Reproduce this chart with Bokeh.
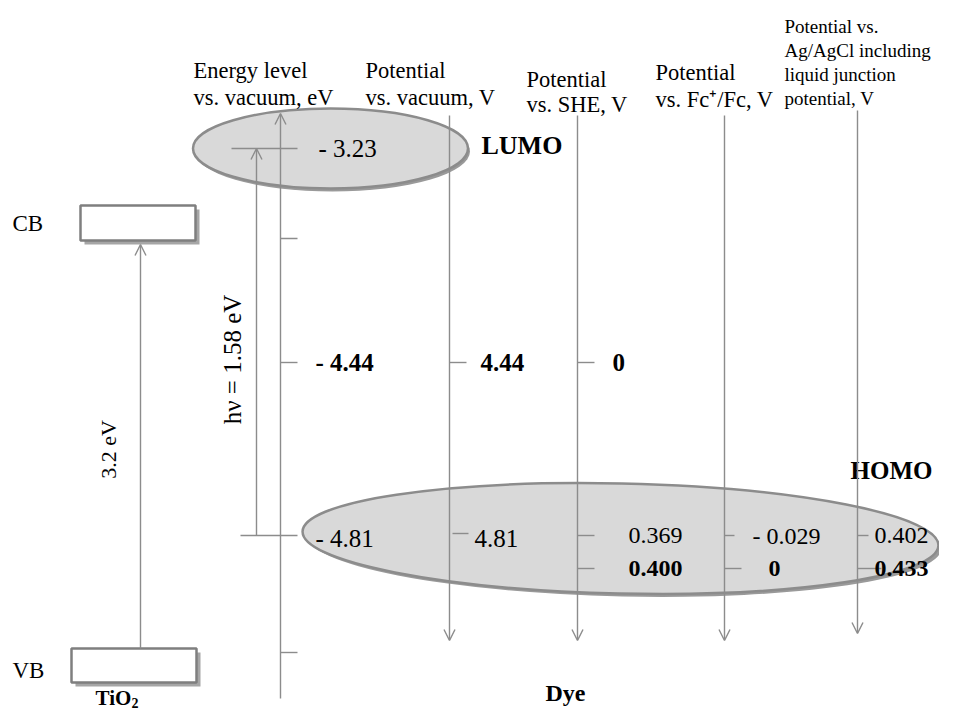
import math
from bokeh.plotting import figure
from bokeh.models import Range1d, Arrow, OpenHead
from bokeh.core.properties import value
from bokeh.embed import file_html
from bokeh.resources import INLINE

# ---------------- data ----------------
header_energy = ["Energy level", "vs. vacuum, eV"]
header_vacuum = ["Potential", "vs. vacuum, V"]
header_she = ["Potential", "vs. SHE, V"]
header_fc = ["Potential", "vs. Fc\u207a/Fc, V"]
header_ag = ["Potential vs.", "Ag/AgCl including", "liquid junction", "potential, V"]

lumo_ev = -3.23
she_vs_vacuum_ev = -4.44
homo_ev = -4.81
she_vs_vacuum_v = 4.44
homo_vs_vacuum_v = 4.81
she_vs_she_v = 0
homo_vs_she_v = [0.369, 0.400]
homo_vs_fc_v = [-0.029, 0]
homo_vs_ag_v = [0.402, 0.433]
hv_ev = 1.58
tio2_gap_ev = 3.2
band_labels = ["CB", "VB"]
material_labels = ["TiO", "Dye"]
orbital_labels = ["LUMO", "HOMO"]


def fmt(v, nd):
    if v == 0:
        return "0"
    s = f"{abs(v):.{nd}f}"
    return "- " + s if v < 0 else s


# ---------------- layout (schematic positions) ----------------
Y_LUMO, Y_REF, Y_HOMO, Y_HOMO2 = 148, 362, 535, 568
Y_TICK_A, Y_TICK_B = 238, 652
AX_E, AX_VAC, AX_SHE, AX_FC, AX_AG = 280, 449, 577, 724, 857
GRAY = "#8c8c8c"
FONT = value("Liberation Serif")

p = figure(width=939, height=710, output_backend="svg", toolbar_location=None,
           x_range=Range1d(0, 939), y_range=Range1d(710, 0), min_border=0)
p.axis.visible = False
p.grid.visible = False
p.outline_line_color = None
p.background_fill_color = "white"

# ellipses (dye HOMO / LUMO)
p.ellipse(x=[623], y=[541], width=[636], height=[110], angle=[-0.022],
          fill_color="#9a9a9a", line_color=None)
p.ellipse(x=[620], y=[538], width=[636], height=[110], angle=[-0.022],
          fill_color="#d9d9d9", line_color=GRAY, line_width=2.5)
p.ellipse(x=[332], y=[151], width=[275], height=[80],
          fill_color="#9a9a9a", line_color=None)
p.ellipse(x=[330], y=[148], width=[275], height=[80],
          fill_color="#d9d9d9", line_color=GRAY, line_width=2.5)

# TiO2 band boxes
p.quad(left=[84, 75], right=[199, 200], top=[209, 652], bottom=[244, 686],
       fill_color="#a6a6a6", line_color=None)
p.quad(left=[80, 71], right=[195, 196], top=[205, 648], bottom=[240, 682],
       fill_color="white", line_color="#7f7f7f", line_width=2.5)

# axes lines with arrows
def arrow(x0, y0, x1, y1):
    p.add_layout(Arrow(end=OpenHead(size=11, line_color=GRAY, line_width=1.4),
                       x_start=x0, y_start=y0, x_end=x1, y_end=y1,
                       line_color=GRAY, line_width=1.4))

arrow(AX_E, 698, AX_E, 113)          # energy axis (up)
arrow(256, Y_HOMO, 256, Y_LUMO)      # hv arrow
arrow(140, 648, 140, 244)            # TiO2 gap
arrow(AX_VAC, 115, AX_VAC, 640)
arrow(AX_SHE, 115, AX_SHE, 640)
arrow(AX_FC, 115, AX_FC, 640)
arrow(AX_AG, 110, AX_AG, 633)

# ticks
tx0 = [AX_E, AX_E, AX_E, 231, 240, AX_VAC, 452, AX_SHE, AX_SHE, AX_SHE, AX_FC, AX_FC, AX_AG, AX_AG]
tx1 = [297, 297, 297, 297, 297, AX_VAC + 17, 468, AX_SHE + 17, AX_SHE + 17, AX_SHE + 17, AX_FC + 10, AX_FC + 17, AX_AG + 11, AX_AG + 24]
ty = [Y_TICK_A, Y_REF, Y_TICK_B, Y_LUMO, Y_HOMO, Y_REF, Y_HOMO - 2, Y_REF, Y_HOMO, Y_HOMO2, Y_HOMO, Y_HOMO2, Y_HOMO, Y_HOMO2]
p.segment(x0=tx0, y0=ty, x1=tx1, y1=ty, line_color=GRAY, line_width=1.4)

def txt(x, y, s, size, bold=False, align="left", baseline="middle", angle=0.0):
    p.text(x=x, y=y, text=s, text_font=FONT, text_font_size=size,
           text_font_style="bold" if bold else "normal", text_align=align,
           text_baseline=baseline, text_color="black", angle=angle)

# headers
txt([193, 193], [70, 97], header_energy, "22.5px", baseline="alphabetic")
txt([365, 365], [70, 97], header_vacuum, "22.5px", baseline="alphabetic")
txt([526, 526], [79, 104], header_she, "22.5px", baseline="alphabetic")
txt([655, 655], [72, 99], header_fc, "22.5px", baseline="alphabetic")
txt([784] * 4, [26, 50, 74, 98], header_ag, "19px", baseline="alphabetic")

# level values
txt([318], [Y_LUMO], [fmt(lumo_ev, 2)], "25px")
txt([315], [Y_REF], [fmt(she_vs_vacuum_ev, 2)], "25px", bold=True)
txt([480], [Y_REF], [fmt(she_vs_vacuum_v, 2)], "25px", bold=True)
txt([612], [Y_REF], [fmt(she_vs_she_v, 0)], "25px", bold=True)
txt([315], [Y_HOMO + 3], [fmt(homo_ev, 2)], "25px")
txt([474], [Y_HOMO + 3], [fmt(homo_vs_vacuum_v, 2)], "25px")
txt([628, 752, 874], [Y_HOMO, Y_HOMO, Y_HOMO],
    [fmt(homo_vs_she_v[0], 3), fmt(homo_vs_fc_v[0], 3), fmt(homo_vs_ag_v[0], 3)], "24px")
txt([628, 768, 874], [Y_HOMO2, Y_HOMO2, Y_HOMO2],
    [fmt(homo_vs_she_v[1], 3), fmt(homo_vs_fc_v[1], 3), fmt(homo_vs_ag_v[1], 3)], "24px", bold=True)

# orbital labels
txt([481], [145], [orbital_labels[0]], "26px", bold=True)
txt([850], [470], [orbital_labels[1]], "25px", bold=True)

# band labels
txt([12, 12], [223, 670], band_labels, "23px")

# rotated labels
txt([108], [449], [f"{tio2_gap_ev:.1f} eV"], "22px", align="center", angle=math.pi / 2)
txt([232], [359], [f"h\u03bd = {hv_ev:.2f} eV"], "25px", align="center", angle=math.pi / 2)

# material labels
txt([95], [697], [material_labels[0]], "21px", bold=True, align="left", baseline="middle")
txt([131], [702], ["2"], "14px", bold=True, align="left", baseline="middle")
txt([565], [692], [material_labels[1]], "24px", bold=True, align="center")

open("out.html", "w").write(file_html(p, INLINE))
